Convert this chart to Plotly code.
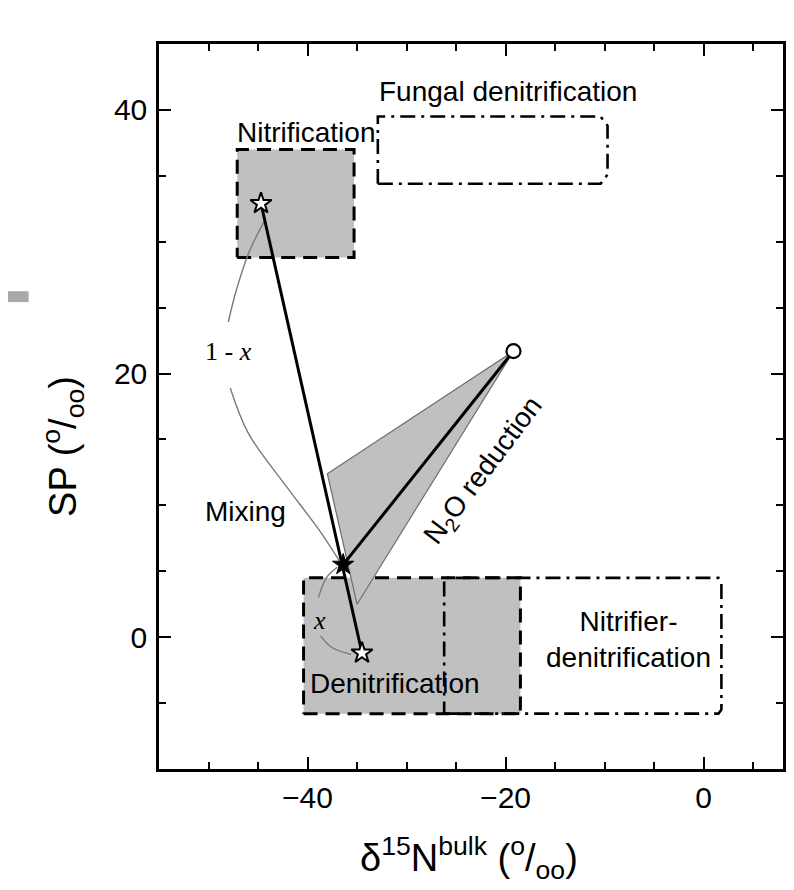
import plotly.graph_objects as go

# ---------------- data ----------------
# source boxes: [x_min, x_max], [y_min, y_max]
nit_box_x = [-47.1, -35.3]
nit_box_y = [28.8, 37.0]
fungal_box_x = [-32.9, -9.7]
fungal_box_y = [34.4, 39.5]
denit_box_x = [-40.4, -18.5]
denit_box_y = [-5.8, 4.5]
nitden_box_x = [-26.2, 1.8]
nitden_box_y = [-5.8, 4.5]

# end members and mixture
nit_star = (-44.7, 32.9)
denit_star = (-34.5, -1.2)
mix_star = (-36.4, 5.5)
residual_pt = (-19.2, 21.7)

# N2O reduction wedge
wedge_x = [-19.2, -38.0, -35.0]
wedge_y = [21.7, 12.4, 2.5]

# thin mixing arcs (two segments each, gap for labels)
arc1a_x = [-44.4, -45.8, -47.2, -48.0]
arc1a_y = [31.5, 29.4, 26.3, 23.9]
arc1b_x = [-47.8, -46.0, -42.1, -38.8, -36.8]
arc1b_y = [18.9, 15.5, 11.4, 8.1, 5.8]
arc2a_x = [-37.0, -38.1, -38.9]
arc2a_y = [5.3, 4.5, 3.0]
arc2b_x = [-38.7, -37.5, -35.6]
arc2b_y = [0.1, -0.8, -1.3]

x_range = [-55, 8.02]
y_range = [-10, 45]

GRAY = "#c0c0c0"
SANS = "Liberation Sans, Arial, sans-serif"
SERIF = "Liberation Serif, Times New Roman, serif"


def rect(xs, ys):
    return [xs[0], xs[1], xs[1], xs[0], xs[0]], [ys[0], ys[0], ys[1], ys[1], ys[0]]


def rounded_right(xs, ys, r=0.6):
    x0, x1 = xs
    y0, y1 = ys
    return ([x0, x1 - r, x1, x1, x1 - r, x0, x0],
            [y0, y0, y0 + r, y1 - r, y1, y1, y0])


fig = go.Figure()

# filled grey boxes
for bx, by in [(nit_box_x, nit_box_y), (denit_box_x, denit_box_y)]:
    px, py = rect(bx, by)
    fig.add_trace(go.Scatter(x=px, y=py, mode="lines", fill="toself",
                             fillcolor=GRAY, line=dict(width=0),
                             hoverinfo="skip", showlegend=False))

# dashed borders
for bx, by in [(nit_box_x, nit_box_y), (denit_box_x, denit_box_y)]:
    px, py = rect(bx, by)
    fig.add_trace(go.Scatter(x=px, y=py, mode="lines",
                             line=dict(color="black", width=3, dash="14px,8px"),
                             hoverinfo="skip", showlegend=False))

# dash-dot borders
fx, fy = rounded_right(fungal_box_x, fungal_box_y, 0.7)
fig.add_trace(go.Scatter(x=fx, y=fy, mode="lines",
                         line=dict(color="black", width=2.6, dash="15px,6px,3px,6px"),
                         hoverinfo="skip", showlegend=False))
nx, ny = rounded_right(nitden_box_x, nitden_box_y, 0.3)
fig.add_trace(go.Scatter(x=nx, y=ny, mode="lines",
                         line=dict(color="black", width=2.6, dash="15px,6px,3px,6px"),
                         hoverinfo="skip", showlegend=False))

# N2O reduction wedge
fig.add_trace(go.Scatter(x=wedge_x + [wedge_x[0]], y=wedge_y + [wedge_y[0]],
                         mode="lines", fill="toself", fillcolor=GRAY,
                         line=dict(color="#6e6e6e", width=1.2),
                         hoverinfo="skip", showlegend=False))

# thin mixing arcs
for ax_, ay_ in [(arc1a_x, arc1a_y), (arc1b_x, arc1b_y), (arc2a_x, arc2a_y), (arc2b_x, arc2b_y)]:
    fig.add_trace(go.Scatter(x=ax_, y=ay_, mode="lines", line_shape="spline",
                             line=dict(color="#7a7a7a", width=1.4),
                             hoverinfo="skip", showlegend=False))

# thick lines
fig.add_trace(go.Scatter(x=[nit_star[0], denit_star[0]], y=[nit_star[1], denit_star[1]],
                         mode="lines", line=dict(color="black", width=3),
                         hoverinfo="skip", showlegend=False))
fig.add_trace(go.Scatter(x=[mix_star[0], residual_pt[0]], y=[mix_star[1], residual_pt[1]],
                         mode="lines", line=dict(color="black", width=3),
                         hoverinfo="skip", showlegend=False))

# markers
fig.add_trace(go.Scatter(x=[nit_star[0], denit_star[0]], y=[nit_star[1], denit_star[1]],
                         mode="markers",
                         marker=dict(symbol="star", size=16, color="white",
                                     line=dict(color="black", width=2)),
                         hoverinfo="skip", showlegend=False))
fig.add_trace(go.Scatter(x=[mix_star[0]], y=[mix_star[1]], mode="markers",
                         marker=dict(symbol="star", size=16, color="black",
                                     line=dict(color="black", width=1)),
                         hoverinfo="skip", showlegend=False))
fig.add_trace(go.Scatter(x=[residual_pt[0]], y=[residual_pt[1]], mode="markers",
                         marker=dict(symbol="circle", size=14, color="white",
                                     line=dict(color="black", width=2.2)),
                         hoverinfo="skip", showlegend=False))

ann = []
def label(x, y, text, size=28, font=SANS, xanchor="left", angle=0):
    ann.append(dict(x=x, y=y, text=text, showarrow=False, xanchor=xanchor,
                    yanchor="middle", textangle=angle,
                    font=dict(family=font, size=size, color="black")))

label(-33.0, 41.4, "Fungal denitrification")
label(-47.3, 38.3, "Nitrification")
label(-40.0, -3.5, "Denitrification")
label(-16.1, -0.2, "Nitrifier-<br>denitrification")
label(-50.6, 9.5, "Mixing")
label(-50.6, 21.7, "1 - <i>x</i>", size=26, font=SERIF)
label(-38.8, 1.3, "<i>x</i>", size=26, font=SERIF, xanchor="center")
label(-22.2, 12.6, "N<sub>2</sub>O reduction", xanchor="center", angle=-53)

# axis titles
ann.append(dict(xref="paper", yref="paper", x=-0.153, y=0.445,
                text="SP (<sup>o</sup>/<sub>oo</sub>)", textangle=-90,
                showarrow=False, xanchor="center", yanchor="middle",
                font=dict(family=SANS, size=38, color="black")))
ann.append(dict(xref="paper", yref="paper", x=0.496, y=-0.123,
                text="δ<sup>15</sup>N<sup>bulk</sup> (<sup>o</sup>/<sub>oo</sub>)",
                showarrow=False, xanchor="center", yanchor="middle",
                font=dict(family=SANS, size=38, color="black")))

axis_common = dict(showline=True, linecolor="black", linewidth=2.5, mirror="ticks",
                   ticks="inside", ticklen=12, tickwidth=2.2, tickcolor="black",
                   showgrid=False, zeroline=False,
                   tickfont=dict(family=SANS, size=30, color="black"),
                   minor=dict(dtick=5, ticks="inside", ticklen=7, tickwidth=2,
                              tickcolor="black", showgrid=False))

fig.update_layout(
    width=778, height=874,
    margin=dict(l=151, r=0, t=36, b=113),
    paper_bgcolor="white", plot_bgcolor="white",
    xaxis=dict(range=x_range, tick0=0, dtick=20, ticklabelstandoff=0, **axis_common),
    yaxis=dict(range=y_range, tick0=0, dtick=20, ticklabelstandoff=3, **axis_common),
    annotations=ann,
    shapes=[dict(type="rect", xref="paper", yref="paper",
                 x0=-0.254, x1=-0.209, y0=0.644, y1=0.659,
                 fillcolor="#a8a8a8", line=dict(width=0), layer="above")],
    showlegend=False,
)

fig.write_html("out.html")
